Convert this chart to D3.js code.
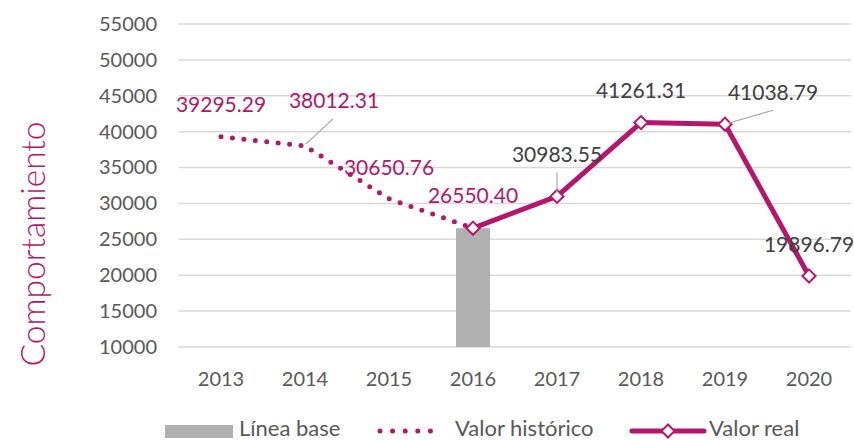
<!DOCTYPE html>
<meta charset="utf-8">
<style>
body { margin: 0; background: #fff; }
text { font-family: Lato, "Open Sans", sans-serif; }
.grid line { stroke: #d9d9d9; stroke-width: 1.5px; }
</style>
<svg width="854" height="440"></svg>
<script src="https://cdn.jsdelivr.net/npm/d3@7"></script>
<script>

var years = ["2013", "2014", "2015", "2016", "2017", "2018", "2019", "2020"];
var baseline = [null, null, null, 26550.40, null, null, null, null];
var historico = [39295.29, 38012.31, 30650.76, 26550.40, null, null, null, null];
var real = [null, null, null, 26550.40, 30983.55, 41261.31, 41038.79, 19896.79];
var yTicks = [10000, 15000, 20000, 25000, 30000, 35000, 40000, 45000, 50000, 55000];

// label value shown per year, and which series it belongs to
var labelValues = [39295.29, 38012.31, 30650.76, 26550.40, 30983.55, 41261.31, 41038.79, 19896.79];
var labelHist = [true, true, true, true, false, false, false, false];

var magenta = "#b5166b";
var svg = d3.select("svg");

var x = d3.scaleBand().domain(years).range([179, 851]);
var y = d3.scaleLinear().domain([10000, 55000]).range([347, 24]);
var cx = function(i) { return x(years[i]) + x.bandwidth() / 2; };

// gridlines
svg.append("g").attr("class", "grid")
  .selectAll("line").data(yTicks).enter().append("line")
    .attr("x1", 179).attr("x2", 851)
    .attr("y1", d => y(d)).attr("y2", d => y(d));

// y axis labels
var yAxis = svg.append("g")
  .attr("transform", "translate(157,0)")
  .call(d3.axisLeft(y).tickValues(yTicks).tickSize(0).tickPadding(0).tickFormat(d3.format("d")));
yAxis.select(".domain").remove();
yAxis.selectAll("text").style("fill", "#595959").style("font-size", "20px").style("font-family", "Lato");

// x axis labels
var xAxis = svg.append("g")
  .attr("transform", "translate(0,372)")
  .call(d3.axisBottom(x).tickSize(0).tickPadding(0));
xAxis.select(".domain").remove();
xAxis.selectAll("text").style("fill", "#595959").style("font-size", "20px").style("font-family", "Lato").attr("dy", "0.71em");

// axis title
svg.append("text")
  .attr("transform", "translate(45,244) rotate(-90)")
  .attr("text-anchor", "middle")
  .style("font-size", "33.5px")
  .style("font-weight", "300")
  .style("fill", magenta)
  .text("Comportamiento");

// base bar
var barW = 34;
svg.selectAll(".bar").data(baseline.map((v, i) => ({v: v, i: i})).filter(d => d.v != null))
  .enter().append("rect")
    .attr("x", d => cx(d.i) - barW / 2)
    .attr("width", barW)
    .attr("y", d => y(d.v))
    .attr("height", d => y(10000) - y(d.v))
    .attr("fill", "#b0b0b0");

var line = d3.line()
  .defined(d => d != null)
  .x((d, i) => cx(i))
  .y(d => y(d));

// historic dotted line
svg.append("path")
  .attr("d", line(historico))
  .attr("fill", "none")
  .attr("stroke", magenta)
  .attr("stroke-width", 5)
  .attr("stroke-linecap", "round")
  .attr("stroke-dasharray", "0 11.5");

// real line
svg.append("path")
  .attr("d", line(real))
  .attr("fill", "none")
  .attr("stroke", magenta)
  .attr("stroke-width", 5)
  .attr("stroke-linejoin", "round");

var diamond = d3.symbol().type(d3.symbolDiamond2).size(110);
svg.selectAll(".mk").data(real.map((v, i) => ({v: v, i: i})).filter(d => d.v != null))
  .enter().append("path")
    .attr("d", diamond)
    .attr("transform", d => "translate(" + cx(d.i) + "," + y(d.v) + ")")
    .attr("fill", "#fff")
    .attr("stroke", magenta)
    .attr("stroke-width", 2);

// data labels: offsets from point
var labelOffsets = [[0, -25], [29, -38], [0, -24], [0, -25], [0, -34], [0, -25], [48, -24], [0, -24]];
var leaders = [null, [[28, -27], [1, -2]], null, null, [[0, -24], [0, -4]], null, [[48, -14], [3, -1]], null];

leaders.forEach(function(l, i) {
  if (!l) return;
  var px = cx(i), py = y(labelValues[i]);
  svg.append("line")
    .attr("x1", px + l[0][0]).attr("y1", py + l[0][1])
    .attr("x2", px + l[1][0]).attr("y2", py + l[1][1])
    .attr("stroke", "#a6a6a6").attr("stroke-width", 1.2);
});

svg.selectAll(".lbl").data(labelValues).enter().append("text")
  .attr("x", (d, i) => cx(i) + labelOffsets[i][0])
  .attr("y", (d, i) => y(d) + labelOffsets[i][1])
  .attr("text-anchor", "middle")
  .style("font-size", "21px")
  .style("fill", (d, i) => labelHist[i] ? magenta : "#404040")
  .text(d => d3.format(".2f")(d));

// legend
var lg = svg.append("g").attr("transform", "translate(0,431)");
lg.append("rect").attr("x", 165).attr("y", -6).attr("width", 68).attr("height", 13).attr("fill", "#b0b0b0");
lg.append("text").attr("x", 239).attr("y", 4.5).style("font-size", "22px").style("fill", "#595959").text("Línea base");
lg.append("line").attr("x1", 380).attr("x2", 443).attr("y1", 0).attr("y2", 0)
  .attr("stroke", magenta).attr("stroke-width", 5).attr("stroke-linecap", "round").attr("stroke-dasharray", "0 12.6");
lg.append("text").attr("x", 455).attr("y", 4.5).style("font-size", "22px").style("fill", "#595959").text("Valor histórico");
lg.append("line").attr("x1", 632).attr("x2", 704).attr("y1", 0).attr("y2", 0)
  .attr("stroke", magenta).attr("stroke-width", 5).attr("stroke-linecap", "round");
lg.append("path").attr("d", diamond).attr("transform", "translate(668,0)")
  .attr("fill", "#fff").attr("stroke", magenta).attr("stroke-width", 2);
lg.append("text").attr("x", 709).attr("y", 4.5).style("font-size", "22px").style("fill", "#595959").text("Valor real");

</script>
